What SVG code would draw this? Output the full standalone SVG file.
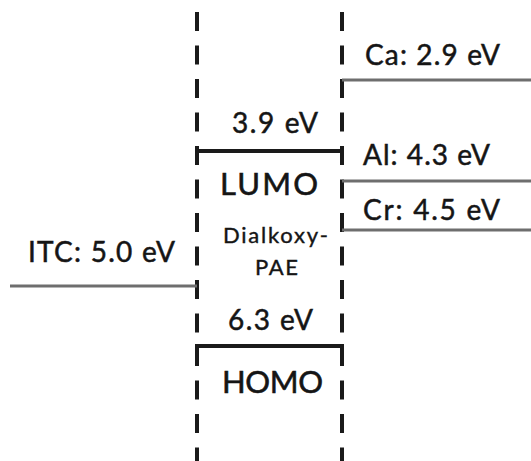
<svg xmlns="http://www.w3.org/2000/svg" width="531" height="461" viewBox="0 0 531 461">
<style>
.t{font-family:Lato,"Open Sans","DejaVu Sans",sans-serif;font-size:28px;fill:#151515;stroke:#151515;stroke-width:0.5}
.b{font-size:31px;stroke-width:0.6}
.s{font-size:22px;stroke-width:0.4}
.dash{stroke:#1a1a1a;stroke-width:4;stroke-dasharray:19 14.5;fill:none}
.bar{stroke:#1a1a1a;stroke-width:4;fill:none}
.lvl{stroke:#6e6e6e;stroke-width:3;fill:none}
</style>
<rect width="531" height="461" fill="#fff"/>
<g id="connectors">
<line class="dash" x1="197" y1="12" x2="197" y2="461"/>
<line class="dash" x1="342" y1="12" x2="342" y2="461"/>
<line class="lvl" x1="342" y1="80" x2="531" y2="80"/>
<line class="lvl" x1="342" y1="181" x2="531" y2="181"/>
<line class="lvl" x1="342" y1="230" x2="531" y2="230"/>
<line class="lvl" x1="10" y1="286" x2="197" y2="286"/>
</g>
<g id="lumo">
<path class="bar" d="M197 160V151H342V160"/>
<text class="t" x="232" y="133" textLength="86">3.9 eV</text>
<text class="t b" x="220" y="195" textLength="98">LUMO</text>
</g>
<g id="pae">
<text class="t s" x="223" y="243" textLength="105">Dialkoxy-</text>
<text class="t s" x="255" y="275" textLength="43">PAE</text>
</g>
<g id="homo">
<path class="bar" d="M197 355V346H342V355"/>
<text class="t" x="228" y="330" textLength="85">6.3 eV</text>
<text class="t b" x="222" y="393" textLength="101">HOMO</text>
</g>
<g id="ca"><text class="t" x="365" y="65" textLength="135">Ca: 2.9 eV</text></g>
<g id="al"><text class="t" x="363" y="165" textLength="127">Al: 4.3 eV</text></g>
<g id="cr"><text class="t" x="363" y="220" textLength="137">Cr: 4.5 eV</text></g>
<g id="itc"><text class="t" x="28" y="262" textLength="147">ITC: 5.0 eV</text></g>
</svg>
